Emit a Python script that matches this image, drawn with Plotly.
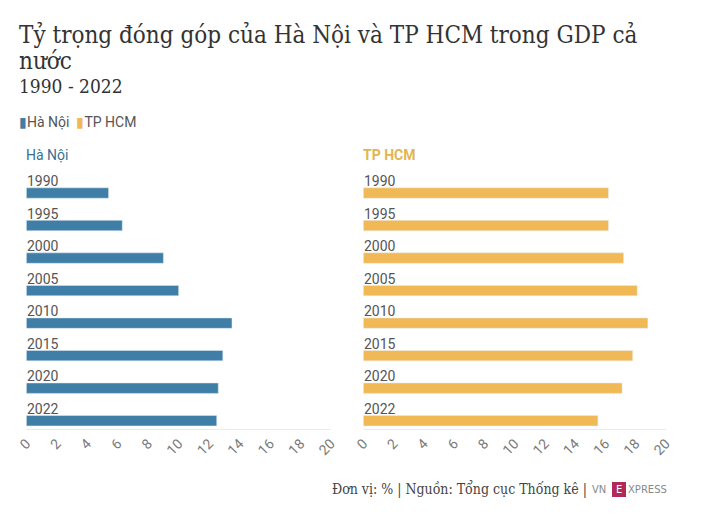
import plotly.graph_objects as go

years = ["1990", "1995", "2000", "2005", "2010", "2015", "2020", "2022"]
hanoi = [5.4, 6.3, 9.0, 10.0, 13.5, 12.9, 12.6, 12.5]
hcm = [16.2, 16.2, 17.2, 18.1, 18.8, 17.8, 17.1, 15.5]
series_names = ["Hà Nội", "TP HCM"]
x_ticks = list(range(0, 21, 2))

C_HN = "#3f7ea6"
C_HCM = "#f0b955"
W, H = 706, 515
T, B = 170, 86
PH = H - T - B
SERIF = "DejaVu Serif Condensed, DejaVu Serif, serif"

def px(x):
    return x / W

def py(y):
    return (H - B - y) / PH

fig = go.Figure()
fig.add_trace(go.Bar(x=hanoi, y=years, orientation="h", marker_color=C_HN, width=0.32,
                     name=series_names[0], xaxis="x", yaxis="y", showlegend=False))
fig.add_trace(go.Bar(x=hcm, y=years, orientation="h", marker_color=C_HCM, width=0.32,
                     name=series_names[1], xaxis="x2", yaxis="y2", showlegend=False))

tickfont = dict(family="Roboto", size=14, color="#7a7a7a")
xcommon = dict(range=[0, 20], tickvals=x_ticks, tickangle=-45, tickfont=tickfont,
               showgrid=False, zeroline=False, showline=True, linecolor="#ebebeb",
               linewidth=1, ticks="", fixedrange=True, automargin=False)
ycommon = dict(type="category", range=[7.255, -0.708], showticklabels=False,
               showgrid=False, zeroline=False, showline=False, ticks="", automargin=False)

fig.update_layout(
    width=W, height=H, autosize=False,
    margin=dict(l=0, r=0, t=T, b=B, pad=0),
    paper_bgcolor="white", plot_bgcolor="white",
    xaxis=dict(domain=[px(26.3), px(331)], anchor="y", **xcommon),
    yaxis=dict(domain=[0, 1], anchor="x", **ycommon),
    xaxis2=dict(domain=[px(363.3), px(666)], anchor="y2", **xcommon),
    yaxis2=dict(domain=[0, 1], anchor="x2", **ycommon),
    showlegend=False,
)

ann = []
lab_font = dict(family="Roboto", size=14, color="#555")
for xa, ya in (("x", "y"), ("x2", "y2")):
    for i, yr in enumerate(years):
        ann.append(dict(x=0, y=i, xref=xa, yref=ya, text=yr, showarrow=False,
                        xanchor="left", yanchor="middle", xshift=-1, yshift=12, font=lab_font))

# Titles (two lines placed separately for tight line spacing)
ann.append(dict(x=px(17), y=py(35), xref="paper", yref="paper", xanchor="left", yanchor="middle",
                text="Tỷ trọng đóng góp của Hà Nội và TP HCM trong GDP cả",
                showarrow=False, align="left",
                font=dict(family=SERIF, size=24, color="#333")))
ann.append(dict(x=px(17), y=py(61), xref="paper", yref="paper", xanchor="left", yanchor="middle",
                text="nước", showarrow=False, align="left",
                font=dict(family=SERIF, size=24, color="#333")))
ann.append(dict(x=px(17), y=py(86), xref="paper", yref="paper", xanchor="left", yanchor="middle",
                text="1990 - 2022", showarrow=False,
                font=dict(family=SERIF, size=19, color="#333")))
# Legend
ann.append(dict(x=px(17), y=py(122), xref="paper", yref="paper", xanchor="left", yanchor="middle",
                text=f"<span style='color:{C_HN}'>▮</span>{series_names[0]}  "
                     f"<span style='color:{C_HCM}'>▮</span>{series_names[1]}",
                showarrow=False, font=dict(family="Roboto", size=14, color="#555")))
# Panel titles
ann.append(dict(x=px(24), y=py(155), xref="paper", yref="paper", xanchor="left", yanchor="middle",
                text=series_names[0], showarrow=False,
                font=dict(family="Roboto", size=14, color="#3a6f92")))
ann.append(dict(x=px(361), y=py(155), xref="paper", yref="paper", xanchor="left", yanchor="middle",
                text="<b>" + series_names[1] + "</b>", showarrow=False,
                font=dict(family="Roboto", size=14, color="#e3b552")))
# Footer
ann.append(dict(x=px(589), y=py(489), xref="paper", yref="paper", xanchor="right", yanchor="middle",
                text="Đơn vị: % | Nguồn: Tổng cục Thống kê |", showarrow=False,
                font=dict(family=SERIF, size=14, color="#444")))
ann.append(dict(x=px(590), y=py(489), xref="paper", yref="paper", xanchor="left", yanchor="middle",
                text="VN", showarrow=False,
                font=dict(family="DejaVu Sans", size=10, color="#888")))
ann.append(dict(x=px(626), y=py(489), xref="paper", yref="paper", xanchor="left", yanchor="middle",
                text="XPRESS", showarrow=False,
                font=dict(family="DejaVu Sans", size=10, color="#888")))
ann.append(dict(x=px(619), y=py(489), xref="paper", yref="paper", xanchor="center", yanchor="middle",
                text="E", showarrow=False,
                font=dict(family="DejaVu Sans", size=10, color="white")))
fig.update_layout(annotations=ann)
fig.add_shape(type="rect", xref="paper", yref="paper", x0=px(612), x1=px(626), y0=py(497), y1=py(482),
              fillcolor="#b02a55", line=dict(width=0), layer="below")

fig.write_html("out.html")
